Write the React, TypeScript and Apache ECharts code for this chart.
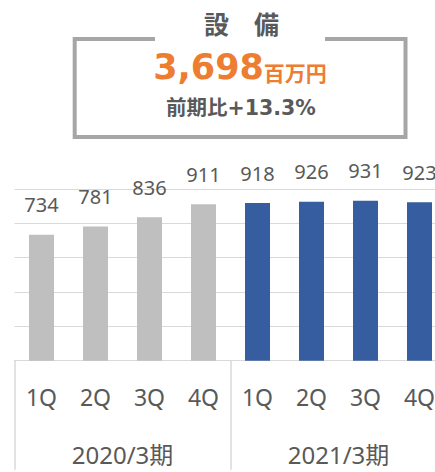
import React, { useEffect, useRef } from "react";
import * as echarts from "echarts";

const quarters = ["1Q", "2Q", "3Q", "4Q", "1Q", "2Q", "3Q", "4Q"];
const fiscalYears = ["2020/3期", "2021/3期"];
const values = [734, 781, 836, 911, 918, 926, 931, 923];
const barColors = ["#bfbfbf", "#bfbfbf", "#bfbfbf", "#bfbfbf", "#365da0", "#365da0", "#365da0", "#365da0"];
const title = "設　備";
const totalValue = "3,698";
const totalUnit = "百万円";
const growthText = "前期比+13.3%";

const FONT = '"DejaVu Sans", "Noto Sans CJK JP", sans-serif';
const LIGHT_FONT = '"Noto Sans", "Noto Sans CJK JP", sans-serif';
const GRAY = "#595959";

export default function App() {
  const ref = useRef<HTMLDivElement>(null);
  useEffect(() => {
    if (!ref.current) return;
    const chart = echarts.init(ref.current, null, { renderer: "svg" });
    chart.setOption({
      animation: false,
      textStyle: { fontFamily: LIGHT_FONT },
      grid: {
        left: 14.5,
        right: -11.5,
        top: 189,
        bottom: 111.3,
        containLabel: false,
        outerBoundsMode: "none",
      },
      xAxis: [
        {
          type: "category",
          data: quarters,
          position: "bottom",
          axisLine: { show: true, lineStyle: { color: "#d9d9d9", width: 1 } },
          axisTick: { show: false },
          axisLabel: { color: GRAY, fontSize: 23, margin: 24.5, fontFamily: LIGHT_FONT, interval: 0 },
        },
        {
          type: "category",
          data: fiscalYears,
          position: "bottom",
          axisLine: { show: false },
          axisTick: { show: true, length: 109, lineStyle: { color: "#d9d9d9", width: 1.5 } },
          axisLabel: { color: GRAY, fontSize: 24, margin: 82, fontFamily: LIGHT_FONT, interval: 0 },
        },
      ],
      yAxis: {
        type: "value",
        min: 0,
        max: 1000,
        interval: 200,
        axisLabel: { show: false },
        axisLine: { show: false },
        axisTick: { show: false },
        splitLine: { show: true, lineStyle: { color: "#d9d9d9", width: 1 } },
      },
      series: [
        {
          type: "bar",
          xAxisIndex: 0,
          barWidth: 25,
          data: values.map((v, i) => ({ value: v, itemStyle: { color: barColors[i] } })),
          label: {
            show: true,
            position: "top",
            distance: 20,
            color: GRAY,
            fontSize: 20,
            fontFamily: LIGHT_FONT,
          },
        },
      ],
      graphic: [
        {
          type: "polyline",
          shape: {
            points: [
              [155, 39],
              [74.7, 39],
              [74.7, 137],
              [405.5, 137],
              [405.5, 39],
              [325, 39],
            ],
          },
          style: { stroke: "#a6a6a6", lineWidth: 4, fill: "none" },
        },
        {
          type: "text",
          x: 241.5,
          y: 25,
          style: {
            text: title,
            fontSize: 25,
            fontWeight: "bold",
            fill: GRAY,
            fontFamily: FONT,
            align: "center",
            verticalAlign: "middle",
          },
        },
        {
          type: "text",
          x: 240,
          y: 84,
          style: {
            text: "{a|" + totalValue + "}{b|" + totalUnit + "}",
            align: "center",
            verticalAlign: "bottom",
            fontFamily: FONT,
            rich: {
              a: { fontSize: 35, fontWeight: "bold", fill: "#ed7d31", fontFamily: FONT, verticalAlign: "bottom" },
              b: { fontSize: 21, fontWeight: "bold", fill: "#ed7d31", fontFamily: FONT, verticalAlign: "bottom" },
            },
          },
        },
        {
          type: "text",
          x: 241,
          y: 107.5,
          style: {
            text: growthText,
            fontSize: 20.5,
            fontWeight: "bold",
            fill: GRAY,
            fontFamily: FONT,
            align: "center",
            verticalAlign: "middle",
          },
        },
      ],
    });
    return () => chart.dispose();
  }, []);
  return (
    <div
      ref={ref}
      style={{ position: "absolute", left: 0, top: 0, width: 435, height: 472 }}
    />
  );
}
